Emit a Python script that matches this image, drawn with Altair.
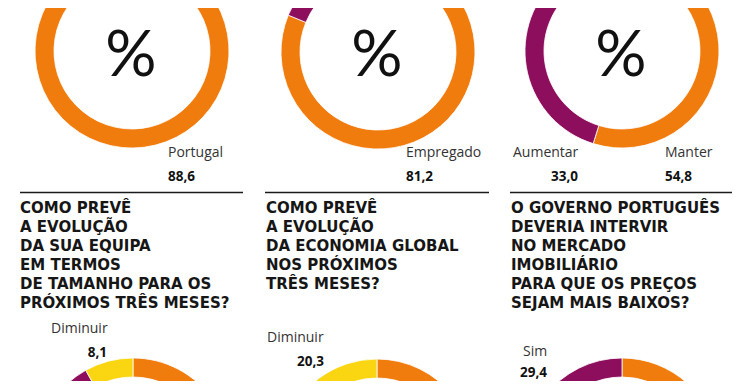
import altair as alt
import pandas as pd

# ---------------- data ----------------
top1_cat = ["Portugal", "Estrangeiro"]
top1_val = [88.6, 11.4]
top2_cat = ["Empregado", "Outro"]
top2_val = [81.2, 18.8]
top3_cat = ["Manter", "Aumentar", "Diminuir"]
top3_val = [54.8, 33.0, 12.2]
bot1_cat = ["Manter", "Aumentar", "Diminuir"]
bot1_val = [62.0, 29.9, 8.1]
bot2_cat = ["Manter", "Aumentar", "Diminuir"]
bot2_val = [58.4, 21.3, 20.3]
bot3_cat = ["Não", "Sim"]
bot3_val = [70.6, 29.4]

title1 = ["COMO PREVÊ", "A EVOLUÇÃO", "DA SUA EQUIPA", "EM TERMOS",
          "DE TAMANHO PARA OS", "PRÓXIMOS TRÊS MESES?"]
title2 = ["COMO PREVÊ", "A EVOLUÇÃO", "DA ECONOMIA GLOBAL", "NOS PRÓXIMOS",
          "TRÊS MESES?"]
title3 = ["O GOVERNO PORTUGUÊS", "DEVERIA INTERVIR", "NO MERCADO",
          "IMOBILIÁRIO", "PARA QUE OS PREÇOS", "SEJAM MAIS BAIXOS?"]

# answer categories shown as labels (name, value)
top1_labels = [("Portugal", 88.6)]
top2_labels = [("Empregado", 81.2)]
top3_labels = [("Aumentar", 33.0), ("Manter", 54.8)]
bot1_labels = [("Diminuir", 8.1)]
bot2_labels = [("Diminuir", 20.3)]
bot3_labels = [("Sim", 29.4)]

# ---------------- styles ----------------
ORANGE = "#F07C0E"
PURPLE = "#8C0E5C"
YELLOW = "#FAD612"
categories = ["Portugal", "Empregado", "Manter", "Não",
              "Estrangeiro", "Outro", "Aumentar", "Sim", "Diminuir"]
palette = [ORANGE] * 4 + [PURPLE] * 4 + [YELLOW]

M = 8  # page margin
R_OUT, R_IN = 97, 78


def fmt(v):
    return f"{v:.1f}".replace(".", ",")


def donut(cats, vals, cx, cy):
    df = pd.DataFrame({"resposta": cats, "valor": vals, "ordem": list(range(len(cats)))})
    return alt.Chart(df).mark_arc(
        radius=R_OUT, radius2=R_IN, x=cx - M, y=cy - M, stroke="white", strokeWidth=0.8
    ).encode(
        theta=alt.Theta("valor:Q", stack=True, scale=alt.Scale(domain=[0, 100])),
        order=alt.Order("ordem:Q"),
        color=alt.Color("resposta:N", scale=alt.Scale(domain=categories, range=palette), legend=None),
    )


def txt(s, x, y, align="left", bold=False, size=14, font="Open Sans", color="#333333"):
    df = pd.DataFrame({"t": [s]})
    return alt.Chart(df).mark_text(
        x=x - M, y=y - M, align=align, baseline="alphabetic", font=font,
        fontSize=size, fontWeight="bold" if bold else "normal", color=color,
    ).encode(text="t:N")


def val(v, x, y, align="left"):
    return txt(fmt(v), x, y, align=align, bold=True, size=13.5, color="#111111")


def rule(x1, x2, y):
    df = pd.DataFrame({"k": [0]})
    return alt.Chart(df).mark_rule(color="#1a1a1a", strokeWidth=1.5).encode(
        x=alt.value(x1 - M), x2=alt.value(x2 - M), y=alt.value(y - M)
    )


def title(lines, x, y):
    df = pd.DataFrame({"t": ["\n".join(lines)]})
    return alt.Chart(df).mark_text(
        x=x - M, y=y - M, align="left", baseline="alphabetic", lineBreak="\n",
        lineHeight=19, font="DejaVu Sans", fontWeight="bold", fontSize=15, color="#161616",
    ).encode(text="t:N")


layers = []
# top donuts
layers.append(donut(top1_cat, top1_val, 132, 51))
layers.append(donut(top2_cat, top2_val, 378, 52))
layers.append(donut(top3_cat, top3_val, 622, 51))
for cx in (131, 377, 621):
    layers.append(txt("%", cx, 76, align="center", size=64, font="Lato", color="#111111"))

# top labels
layers.append(txt(top1_labels[0][0], 168, 157))
layers.append(val(top1_labels[0][1], 168, 181))
layers.append(txt(top2_labels[0][0], 406, 157))
layers.append(val(top2_labels[0][1], 406, 181))
layers.append(txt(top3_labels[0][0], 513, 157))
layers.append(val(top3_labels[0][1], 578, 181, align="right"))
layers.append(txt(top3_labels[1][0], 665, 157))
layers.append(val(top3_labels[1][1], 665, 181))

# rules and titles
layers.append(rule(20, 243, 192.5))
layers.append(rule(265, 489, 192.5))
layers.append(rule(510, 735, 192.5))
layers.append(title(title1, 20, 213))
layers.append(title(title2, 266, 213))
layers.append(title(title3, 511, 213))

# bottom donuts
layers.append(donut(bot1_cat, bot1_val, 133, 455))
layers.append(donut(bot2_cat, bot2_val, 377, 456))
layers.append(donut(bot3_cat, bot3_val, 622, 455))

# bottom labels
layers.append(txt(bot1_labels[0][0], 51, 333))
layers.append(val(bot1_labels[0][1], 107, 357, align="right"))
layers.append(txt(bot2_labels[0][0], 267, 342))
layers.append(val(bot2_labels[0][1], 324, 366, align="right"))
layers.append(txt(bot3_labels[0][0], 523, 356))
layers.append(val(bot3_labels[0][1], 547, 377, align="right"))

chart = alt.layer(*layers).properties(
    width=724, height=373, padding=0,
    autosize=alt.AutoSizeParams(type="none"),
    background="white",
).configure_view(strokeWidth=0)

chart.save("out.html", embed_options={"renderer": "svg", "actions": False})
